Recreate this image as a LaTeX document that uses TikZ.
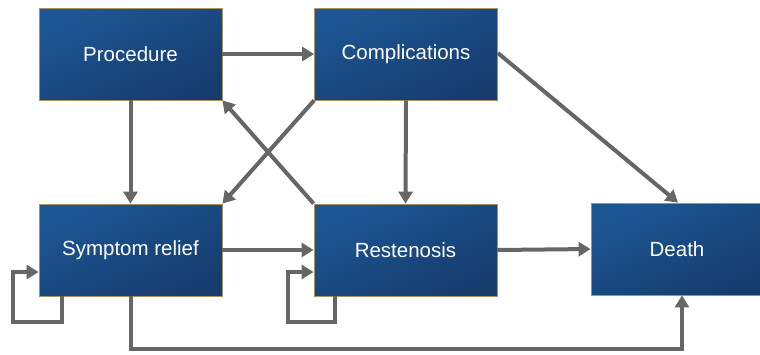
\documentclass[tikz,border=0pt]{standalone}
\usepackage{fontspec}
\setmainfont{Liberation Sans}
\usetikzlibrary{arrows.meta}
\definecolor{boxtop}{HTML}{1D5694}
\definecolor{boxbot}{HTML}{163C6E}
\definecolor{boxedge}{HTML}{A89460}
\definecolor{arrowgray}{HTML}{666666}
\tikzset{
  statebox/.style={draw=boxedge, line width=0.8pt, top color=boxtop, bottom color=boxbot, shading angle=25,
    minimum width=183pt, minimum height=92pt, inner sep=0pt, text=white,
    font=\fontsize{20.5pt}{24pt}\selectfont},
  conn/.style={draw=arrowgray, line width=4pt, -{Triangle[length=12pt,width=14pt]}},
}
\begin{document}
\begin{tikzpicture}[x=1pt,y=-1pt]
\useasboundingbox (0,0) rectangle (760,354);
\node[statebox] (proc) at (130.5,54) {Procedure};
\node[statebox] (comp) at (406,54) {Complications};
\node[statebox] (sym) at (130.5,250) {Symptom relief};
\node[statebox] (rest) at (405.5,250) {Restenosis};
\node[statebox, minimum width=172pt] (death) at (677,249) {Death};
% straight connectors
\draw[conn] (proc.east) -- (comp.west);
\draw[conn] (proc.south) -- (sym.north);
\draw[conn] (comp.south) -- (rest.north);
\draw[conn] (sym.east) -- (rest.west);
\draw[conn] (rest.east) -- (death.west);
\draw[conn] ([yshift=1pt]comp.east) -- ([xshift=1pt]death.north);
\draw[conn] (comp.south west) -- (sym.north east);
\draw[conn] (rest.north west) -- (proc.south east);
% self loops
\draw[conn] ([xshift=-68.5pt]sym.south) |- ++(-49,26) |- ([yshift=-22pt]sym.west);
\draw[conn] ([xshift=-70.5pt]rest.south) |- ++(-47,26) |- ([yshift=-22pt]rest.west);
% symptom relief to death
\draw[conn] (sym.south) |- ++(0,53) -| ([xshift=5pt]death.south);
\end{tikzpicture}
\end{document}
